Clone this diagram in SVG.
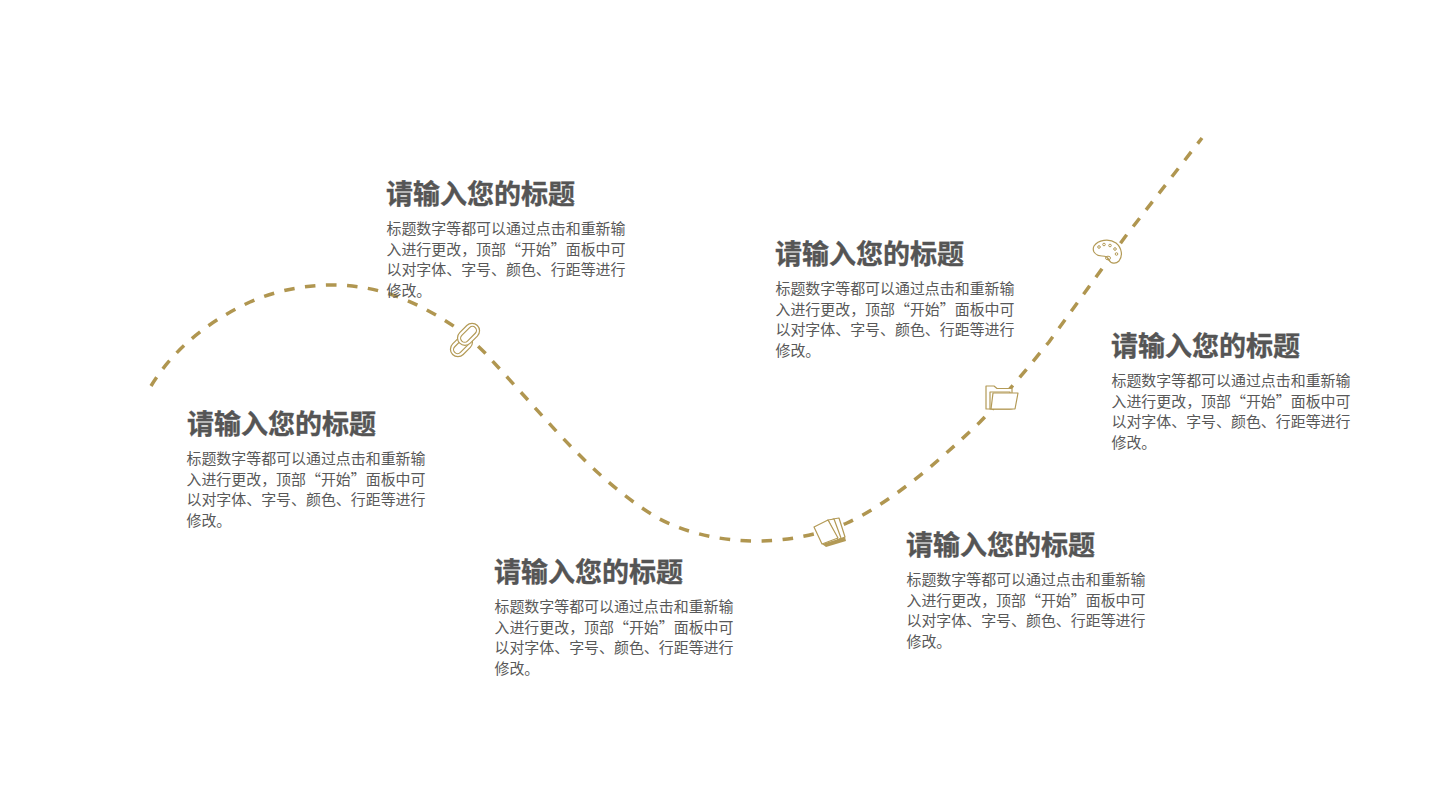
<svg xmlns="http://www.w3.org/2000/svg" width="1440" height="810" viewBox="0 0 1440 810">
<style>
text{font-family:"Noto Sans CJK SC","Liberation Sans",sans-serif;fill:#555}
.t{font-size:27px;font-weight:700;stroke:#555;stroke-width:.35}
.b{font-size:14.950px;fill:#595959}
.i{fill:#fff;stroke:#b39a56;stroke-width:1.2;stroke-linejoin:round;stroke-linecap:round}
.c{fill:none;stroke:#b09650;stroke-width:3.500;stroke-dasharray:10.500 10.500}
</style>
<rect width="1440" height="810" fill="#fff"/>
<g id="connectors">
<path class="c" d="M151 386C168 358 198 326 250 302C275 291 303 285 333 285C385 285 425 307 455 327C470 338 480 348 487 355C510 380 534 407 558 433C590 467 620 495 656 517C685 533 720 541 758 541C790 541 825 533 847 523C890 503 935 465 980 422C1005 396 1030 365 1049 342L1125 237L1202 138"/>
</g>
<g id="icon-link" transform="rotate(-45 465 340)">
<rect class="i" x="446" y="334" width="25" height="15" rx="7.500"/>
<rect class="i" x="449" y="337.500" width="19" height="8" rx="4"/>
<rect class="i" x="459" y="331" width="25" height="15" rx="7.500"/>
<rect class="i" x="462" y="334.500" width="19" height="8" rx="4"/>
</g>
<g id="icon-book">
<path class="i" d="M833 519L839 518L845 537L838 540z"/>
<path class="i" d="M828 520L834 519L841 538L838 540z"/>
<path d="M822 544L845 537L846 541L826 547z" fill="#b39a56"/>
<path class="i" d="M814 527L828 520L838 538L822 544z"/>
</g>
<g id="icon-folder">
<path class="i" d="M986 409V386h8l3 2.500h15v20.500z"/>
<path class="i" d="M990 409V392h20v17z"/>
<path class="i" d="M991 409l2-16h25l-3 16z"/>
</g>
<g id="icon-palette">
<path class="i" d="M1094 246c4-6 15-8 22-3c6 5 7 13 3 18c-3 3-8 3-10-1c-1-3-4-4-7-4c-3 0-6-1-8-4c-1-2-1-4 0-6z"/>
<g fill="none" stroke="#b39a56" stroke-width="1">
<circle cx="1099" cy="247" r="1.300"/><circle cx="1104" cy="244.500" r="1.300"/><circle cx="1110" cy="245.500" r="1.300"/><circle cx="1115" cy="249" r="1.300"/><circle cx="1116.500" cy="254" r="1.300"/><ellipse cx="1108" cy="258" rx="2.500" ry="1.800"/>
</g>
</g>
<g id="node-1">
<text class="t" x="187" y="434">请输入您的标题</text>
<text class="b" x="186.500" y="464">标题数字等都可以通过点击和重新输</text>
<text class="b" x="186.500" y="484.500">入进行更改，顶部“开始”面板中可</text>
<text class="b" x="186.500" y="505">以对字体、字号、颜色、行距等进行</text>
<text class="b" x="186.500" y="525.500">修改。</text>
</g>
<g id="node-2">
<text class="t" x="386" y="204">请输入您的标题</text>
<text class="b" x="386.500" y="234">标题数字等都可以通过点击和重新输</text>
<text class="b" x="386.500" y="254.500">入进行更改，顶部“开始”面板中可</text>
<text class="b" x="386.500" y="275">以对字体、字号、颜色、行距等进行</text>
<text class="b" x="386.500" y="295.500">修改。</text>
</g>
<g id="node-3">
<text class="t" x="494" y="582">请输入您的标题</text>
<text class="b" x="494.500" y="612">标题数字等都可以通过点击和重新输</text>
<text class="b" x="494.500" y="632.500">入进行更改，顶部“开始”面板中可</text>
<text class="b" x="494.500" y="653">以对字体、字号、颜色、行距等进行</text>
<text class="b" x="494.500" y="673.500">修改。</text>
</g>
<g id="node-4">
<text class="t" x="775" y="264">请输入您的标题</text>
<text class="b" x="775.500" y="294">标题数字等都可以通过点击和重新输</text>
<text class="b" x="775.500" y="314.500">入进行更改，顶部“开始”面板中可</text>
<text class="b" x="775.500" y="335">以对字体、字号、颜色、行距等进行</text>
<text class="b" x="775.500" y="355.500">修改。</text>
</g>
<g id="node-5">
<text class="t" x="906" y="555">请输入您的标题</text>
<text class="b" x="906.500" y="585">标题数字等都可以通过点击和重新输</text>
<text class="b" x="906.500" y="605.500">入进行更改，顶部“开始”面板中可</text>
<text class="b" x="906.500" y="626">以对字体、字号、颜色、行距等进行</text>
<text class="b" x="906.500" y="646.500">修改。</text>
</g>
<g id="node-6">
<text class="t" x="1111" y="356">请输入您的标题</text>
<text class="b" x="1111.500" y="386">标题数字等都可以通过点击和重新输</text>
<text class="b" x="1111.500" y="406.500">入进行更改，顶部“开始”面板中可</text>
<text class="b" x="1111.500" y="427">以对字体、字号、颜色、行距等进行</text>
<text class="b" x="1111.500" y="447.500">修改。</text>
</g>
</svg>
